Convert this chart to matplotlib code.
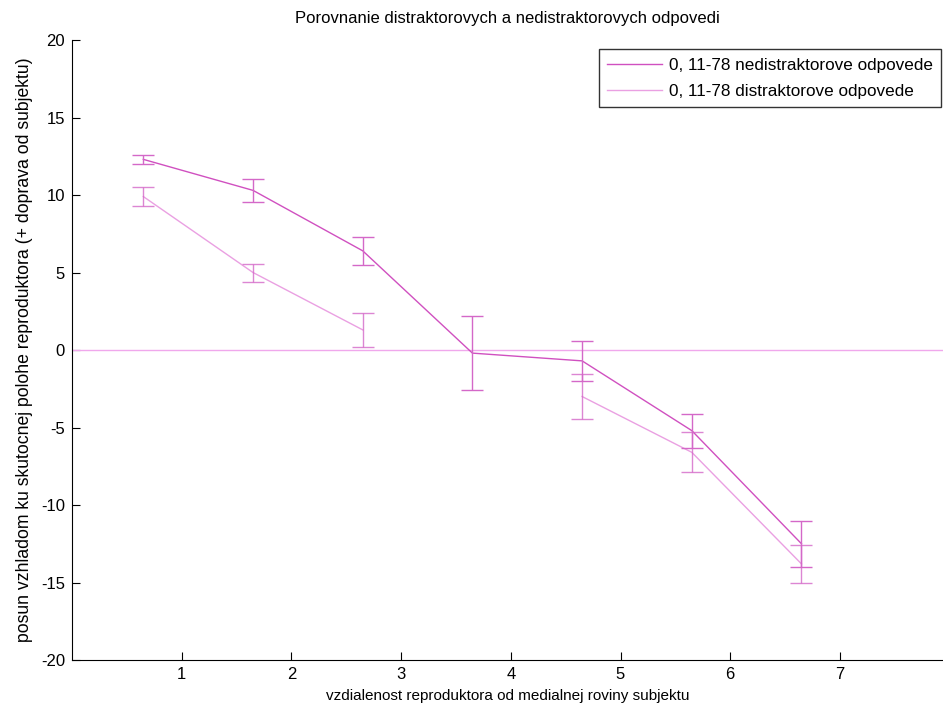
import numpy as np
import matplotlib
matplotlib.use('Agg')
import matplotlib.pyplot as plt

plt.rcParams['font.family'] = ['Liberation Sans', 'DejaVu Sans']
plt.rcParams['font.size'] = 12

# vzdialenost od medialnej roviny (posunute o 0.35)
x = [0.65, 1.65, 2.65, 3.65, 4.65, 5.65, 6.65]

# nedistraktorove odpovede
y_ned = [12.3, 10.3, 6.4, -0.2, -0.7, -5.2, -12.5]
e_ned = [0.3, 0.75, 0.9, 2.4, 1.3, 1.1, 1.5]

# distraktorove odpovede (v strede nie je distraktor)
y_dis = [9.9, 5.0, 1.3, np.nan, -3.0, -6.6, -13.8]
e_dis = [0.6, 0.58, 1.1, np.nan, 1.45, 1.3, 1.2]

c_ned = '#d050c0'
c_dis = '#eaa0e2'
c_err = '#d468c8'

fig = plt.figure(figsize=(9.43, 7.11), dpi=100)
ax = fig.add_axes([0.0764, 0.0717, 0.9236, 0.872])

ax.axhline(0, color='#f0a8ec', lw=1)

# ciary
ax.plot(x, y_ned, color=c_ned, lw=1, label='0, 11-78 nedistraktorove odpovede')
ax.plot(x, y_dis, color=c_dis, lw=1, label='0, 11-78 distraktorove odpovede')

# chybove useky
ax.errorbar(x, y_ned, yerr=e_ned, fmt='none', ecolor=c_err, elinewidth=1,
            capsize=8, capthick=1)
ax.errorbar(x, y_dis, yerr=e_dis, fmt='none', ecolor=c_err, elinewidth=1,
            capsize=8, capthick=1, alpha=0.8)

ax.set_xlim(0, 7.94)
ax.set_ylim(-20, 20)
ax.set_xticks([1, 2, 3, 4, 5, 6, 7])
ax.set_yticks(np.arange(-20, 21, 5))
ax.set_yticklabels([str(v) for v in range(-20, 21, 5)])
ax.tick_params(direction='in', length=6, width=0.8, labelsize=12, pad=5)
ax.spines['top'].set_visible(False)
ax.spines['right'].set_visible(False)

ax.set_title('Porovnanie distraktorovych a nedistraktorovych odpovedi', fontsize=12, pad=12)
ax.set_xlabel('vzdialenost reproduktora od medialnej roviny subjektu', fontsize=11,
              labelpad=5)
ax.set_ylabel('posun vzhladom ku skutocnej polohe reproduktora (+ doprava od subjektu)',
              fontsize=12.7, labelpad=6)

leg = ax.legend(loc='upper right', bbox_to_anchor=(1.0, 0.988), frameon=True,
                fancybox=False, edgecolor='black', fontsize=12.3, handlelength=3.2,
                borderpad=0.5, labelspacing=0.65, handletextpad=0.4, borderaxespad=0.1)
leg.get_frame().set_linewidth(1)

fig.savefig('out.png', dpi=100)
